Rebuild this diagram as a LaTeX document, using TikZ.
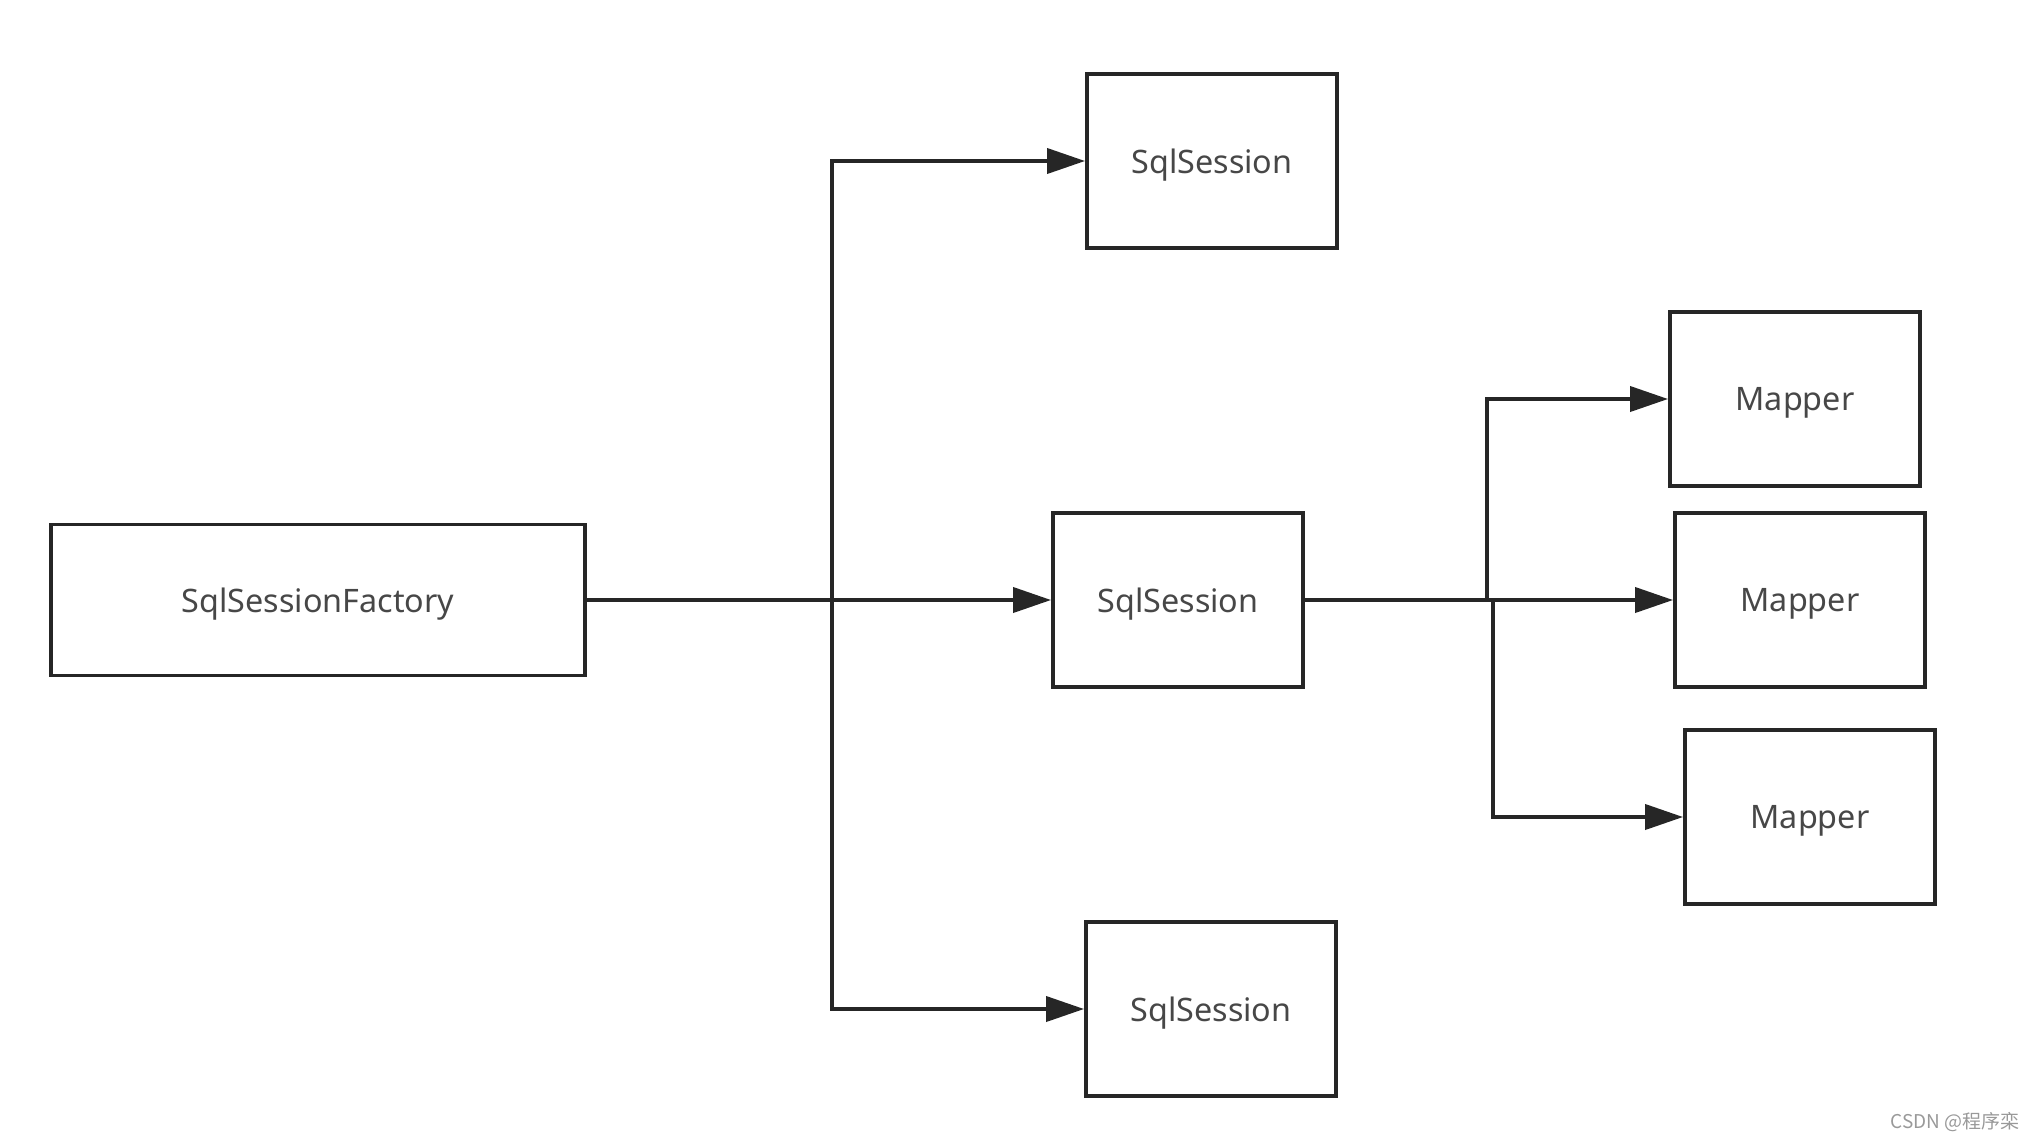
\documentclass[tikz,border=0pt]{standalone}
\usepackage{fontspec}
\setmainfont{Noto Sans}
\newfontfamily\cjkfont{Noto Sans CJK SC}
\usepackage{xcolor}
\usepackage{tikz}
\usetikzlibrary{arrows.meta}

\begin{document}
\begin{tikzpicture}[
		box/.style={draw=black!85,line width=1.1pt,inner sep=0pt,minimum width=2.5cm,minimum height=1.74cm,text depth=0pt,text=black!72,font=\fontsize{9.2}{11}\selectfont},
		link/.style={draw=black!85,line width=1.1pt},
		arr/.style={link,-{Triangle[length=3.8mm,width=2.5mm]}}]
		\useasboundingbox (0,0) rectangle (20.35,-11.4);
		\node[box,minimum width=5.34cm,minimum height=1.51cm] (factory) at (3.18,-6.0) {SqlSessionFactory};
		\node[box] (sessA) at (12.12,-1.61) {SqlSession};
		\node[box] (sessB) at (11.78,-6.0) {SqlSession};
		\node[box] (sessC) at (12.11,-10.09) {SqlSession};
		\node[box] (mapA) at (17.95,-3.99) {Mapper};
		\node[box] (mapB) at (18.0,-6.0) {Mapper};
		\node[box] (mapC) at (18.1,-8.17) {Mapper};
		\coordinate (split) at (8.32,-6.0);
		\coordinate (msplitA) at (14.87,-6.0);
		\coordinate (msplitB) at (14.93,-6.0);
		\draw[link] (factory.east) -- (split);
		\draw[arr] (split) |- (sessA.west);
		\draw[arr] (split) -- (sessB.west);
		\draw[arr] (split) |- (sessC.west);
		\draw[link] (sessB.east) -- (msplitB);
		\draw[arr] (msplitA) |- (mapA.west);
		\draw[arr] (msplitB) -- (mapB.west);
		\draw[arr] (msplitB) |- (mapC.west);
		\node[anchor=east,inner sep=0pt,text=black!40,font=\cjkfont\fontsize{5.4}{6}\selectfont] (mark) at (20.2,-11.22) {CSDN @程序栾};
	\end{tikzpicture}
\end{document}
